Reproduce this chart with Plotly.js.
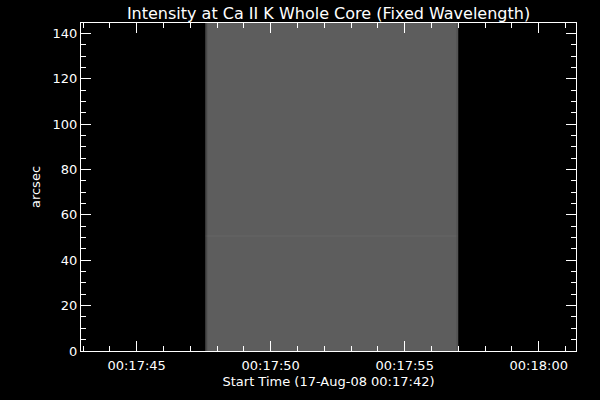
<!DOCTYPE html>
<html>
<head>
<meta charset="utf-8">
<script src="https://cdn.plot.ly/plotly-3.0.1.min.js"></script>
<style>html,body{margin:0;padding:0;background:#000;}#chart{width:600px;height:400px;}</style>
</head>
<body>
<div id="chart"></div>
<script>
// Image cell edges along time (x) and along slit (y, arcsec)
const timeEdges = ['2008-08-17 00:17:47.56', '2008-08-17 00:17:47.65', '2008-08-17 00:17:56.93', '2008-08-17 00:17:57.00'];
const arcsecEdges = [0, 50.4, 51.0, 144.6];
// Intensity (display byte values 0-255), one row per arcsec band
const intensityRow0 = [72, 93, 84];
const intensityRow1 = [76, 97, 86];
const intensityRow2 = [72, 93, 84];
// Axis ranges and ticks
const timeRange = ['2008-08-17 00:17:42.925', '2008-08-17 00:18:01.39'];
const arcsecRange = [0, 144.6];
const timeTickVals = ['2008-08-17 00:17:45', '2008-08-17 00:17:50', '2008-08-17 00:17:55', '2008-08-17 00:18:00'];
const timeTickText = ['00:17:45', '00:17:50', '00:17:55', '00:18:00'];
const titleText = 'Intensity at Ca II K Whole Core (Fixed Wavelength)';
const xTitleText = 'Start Time (17-Aug-08 00:17:42)';
const yTitleText = 'arcsec';

const font = 'DejaVu Sans, sans-serif';

const trace = {
  type: 'heatmap',
  x: timeEdges,
  y: arcsecEdges,
  z: [intensityRow0, intensityRow1, intensityRow2],
  zmin: 0, zmax: 255,
  colorscale: [[0, '#000000'], [1, '#ffffff']],
  showscale: false,
  hoverinfo: 'skip'
};

const axisCommon = {
  showline: true, linecolor: '#ffffff', linewidth: 1,
  mirror: 'allticks',
  ticks: 'inside', ticklen: 10, tickwidth: 1, tickcolor: '#ffffff',
  showgrid: false, zeroline: false,
  tickfont: {family: font, size: 13, color: '#ffffff'}
};

const layout = {
  width: 600, height: 400,
  paper_bgcolor: '#000000', plot_bgcolor: '#000000',
  margin: {l: 81, r: 24, t: 23, b: 49, pad: 0},
  showlegend: false,
  title: {
    text: titleText,
    font: {family: font, size: 16, color: '#ffffff'},
    x: 0.5, xref: 'paper', xanchor: 'center',
    y: 1 - 13.5 / 400, yref: 'container', yanchor: 'middle'
  },
  xaxis: Object.assign({}, axisCommon, {
    type: 'date',
    range: timeRange,
    tickmode: 'array', tickvals: timeTickVals, ticktext: timeTickText,
    ticklabelstandoff: 2,
    minor: {tickmode: 'linear', tick0: '2008-08-17 00:17:45', dtick: 1000, ticks: 'inside', ticklen: 5, tickwidth: 1, tickcolor: '#ffffff', showgrid: false},
    title: {text: xTitleText, font: {family: font, size: 13, color: '#ffffff'}, standoff: 5}
  }),
  yaxis: Object.assign({}, axisCommon, {
    range: arcsecRange,
    tickmode: 'linear', tick0: 0, dtick: 20,
    minor: {tickmode: 'linear', tick0: 0, dtick: 5, ticks: 'inside', ticklen: 5, tickwidth: 1, tickcolor: '#ffffff', showgrid: false},
    title: {text: yTitleText, font: {family: font, size: 13, color: '#ffffff'}, standoff: 9}
  })
};

Plotly.newPlot('chart', [trace], layout, {staticPlot: true, displayModeBar: false});
</script>
</body>
</html>
